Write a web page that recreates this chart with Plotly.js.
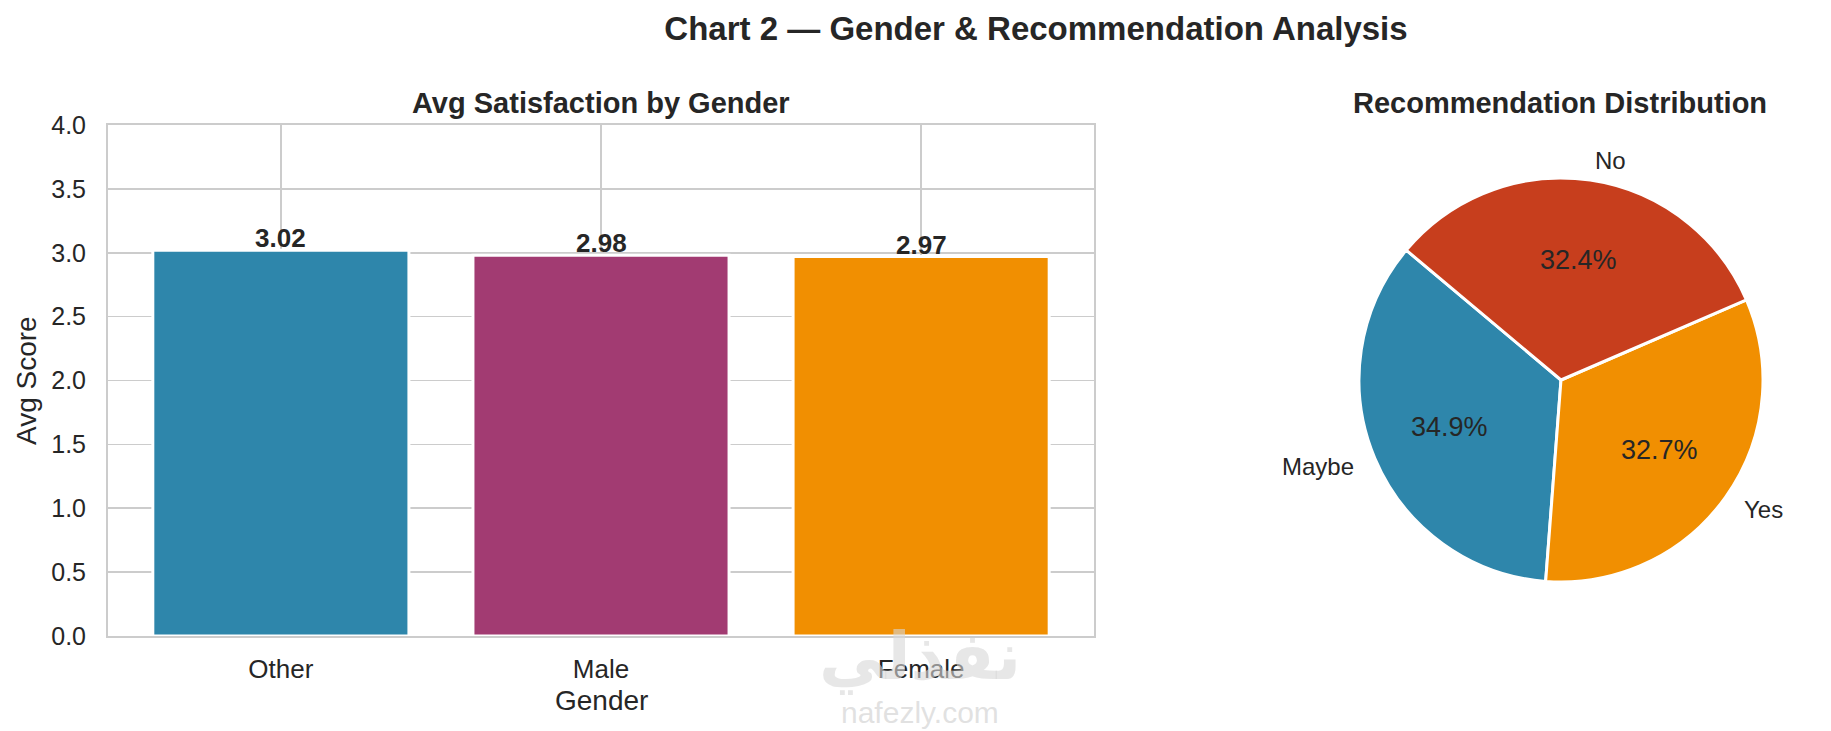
<!DOCTYPE html>
<html>
<head>
<meta charset="utf-8">
<script src="https://cdn.plot.ly/plotly-3.0.1.min.js"></script>
<style>
  html, body { margin: 0; padding: 0; background: #ffffff; }
  #chart { width: 1831px; height: 731px; }
</style>
</head>
<body>
<div id="chart"></div>
<script>
// Chart 2 — gender bars + recommendation pie

const genders = ['Other', 'Male', 'Female'];
const avgScores = [3.02, 2.98, 2.97];
const genderColors = ['#2E86AB', '#A23B72', '#F18F01'];

const recLabels = ['Maybe', 'Yes', 'No'];
const recShares = [34.9, 32.7, 32.4];
const recColors = ['#2E86AB', '#F18F01', '#C73E1D'];

const yTicks = [0, 0.5, 1, 1.5, 2, 2.5, 3, 3.5, 4];

const W = 1831, H = 731;
const TEXT = '#262626';
const GRID = '#cccccc';
const FONT = 'Liberation Sans, Arial, sans-serif';

// pie geometry (px) — matplotlib style: start 140deg, ccw
const PIE = { cx: 1561, cy: 380, r: 202, start: 140 };
const total = recShares.reduce((a, b) => a + b, 0);

const barTrace = {
  type: 'bar',
  x: genders,
  y: avgScores,
  marker: { color: genderColors, line: { color: '#ffffff', width: 3 } },
  hoverinfo: 'none',
  showlegend: false
};

// plotly ccw: first slice sits clockwise of the rotation line
const pieTrace = {
  type: 'pie',
  labels: recLabels,
  values: recShares,
  sort: false,
  direction: 'counterclockwise',
  rotation: (90 - PIE.start) - 360 * recShares[0] / total,
  marker: { colors: recColors, line: { color: '#ffffff', width: 3 } },
  textinfo: 'none',
  hoverinfo: 'none',
  showlegend: false,
  domain: {
    x: [(PIE.cx - PIE.r) / W, (PIE.cx + PIE.r) / W],
    y: [1 - (PIE.cy + PIE.r) / H, 1 - (PIE.cy - PIE.r) / H]
  }
};

// percent + outer labels placed like matplotlib (pctdistance .6, labeldistance 1.1)
const pieNotes = [];
let cum = 0;
recShares.forEach((v, i) => {
  const mid = (PIE.start + 360 * (cum + v / 2) / total) * Math.PI / 180;
  cum += v;
  const c = Math.cos(mid), s = Math.sin(mid);
  pieNotes.push({
    x: (PIE.cx + 0.6 * PIE.r * c) / W, y: 1 - (PIE.cy - 0.6 * PIE.r * s) / H,
    xref: 'paper', yref: 'paper', xanchor: 'center', yanchor: 'middle',
    text: (v / total * 100).toFixed(1) + '%', showarrow: false,
    font: { family: FONT, size: 27, color: TEXT }
  });
  pieNotes.push({
    x: (PIE.cx + 1.1 * PIE.r * c) / W, y: 1 - (PIE.cy - 1.1 * PIE.r * s) / H,
    xref: 'paper', yref: 'paper', xanchor: c > 0 ? 'left' : 'right', yanchor: 'middle',
    text: recLabels[i], showarrow: false,
    font: { family: FONT, size: 24, color: TEXT }
  });
});

// value labels on top of the bars
const barNotes = genders.map((g, i) => ({
  x: g, y: avgScores[i], xref: 'x', yref: 'y',
  xanchor: 'center', yanchor: 'bottom', yshift: -5,
  text: avgScores[i].toFixed(2), showarrow: false,
  font: { family: FONT, size: 26, color: TEXT, weight: 'bold' }
}));

const annotations = [
  { x: 601 / W, y: 1 - 103 / H, text: 'Avg Satisfaction by Gender',
    font: { family: FONT, size: 29, color: TEXT, weight: 'bold' } },
  { x: 1560 / W, y: 1 - 103 / H, text: 'Recommendation Distribution',
    font: { family: FONT, size: 29, color: TEXT, weight: 'bold' } },
  { x: 26 / W, y: 1 - 381 / H, text: 'Avg Score', textangle: -90,
    font: { family: FONT, size: 28, color: TEXT } },
  { x: 601 / W, y: 1 - 700 / H, text: 'Gender',
    font: { family: FONT, size: 28, color: TEXT } },
  // site watermark
  { x: 920 / W, y: 1 - 656 / H, text: 'نفذلي',
    font: { family: 'DejaVu Sans, sans-serif', size: 66, color: 'rgba(215,215,215,0.6)', weight: 'bold' } },
  { x: 920 / W, y: 1 - 712 / H, text: 'nafezly.com',
    font: { family: FONT, size: 30, color: 'rgba(215,215,215,0.75)' } }
].map(a => Object.assign({ xref: 'paper', yref: 'paper', showarrow: false,
  xanchor: 'center', yanchor: 'middle' }, a)).concat(barNotes, pieNotes);

const layout = {
  width: W, height: H,
  margin: { l: 0, r: 0, t: 0, b: 0 },
  paper_bgcolor: '#ffffff',
  plot_bgcolor: '#ffffff',
  font: { family: FONT, color: TEXT, size: 24 },
  title: {
    text: 'Chart 2 — Gender & Recommendation Analysis',
    font: { family: FONT, size: 33, color: TEXT, weight: 'bold' },
    x: 1036 / W, xanchor: 'center', xref: 'container',
    y: 1 - 28 / H, yanchor: 'middle', yref: 'container'
  },
  bargap: 0.2,
  xaxis: {
    domain: [108 / W, 1094 / W],
    type: 'category',
    range: [-0.54, 2.54],
    showgrid: true, gridcolor: GRID, gridwidth: 1.6,
    showline: true, linecolor: GRID, linewidth: 2, mirror: true,
    zeroline: false, ticks: '',
    ticklabelstandoff: 9,
    tickfont: { family: FONT, size: 26, color: TEXT },
    fixedrange: true
  },
  yaxis: {
    domain: [1 - 636 / H, 1 - 125 / H],
    range: [0, 4],
    tickvals: yTicks,
    ticktext: yTicks.map(v => v.toFixed(1)),
    showgrid: true, gridcolor: GRID, gridwidth: 1.6,
    showline: true, linecolor: GRID, linewidth: 2, mirror: true,
    zeroline: false, ticks: '',
    ticklabelstandoff: 15,
    tickfont: { family: FONT, size: 25, color: TEXT },
    fixedrange: true
  },
  annotations: annotations
};

Plotly.newPlot('chart', [barTrace, pieTrace], layout, { displayModeBar: false, staticPlot: true });
</script>
</body>
</html>
